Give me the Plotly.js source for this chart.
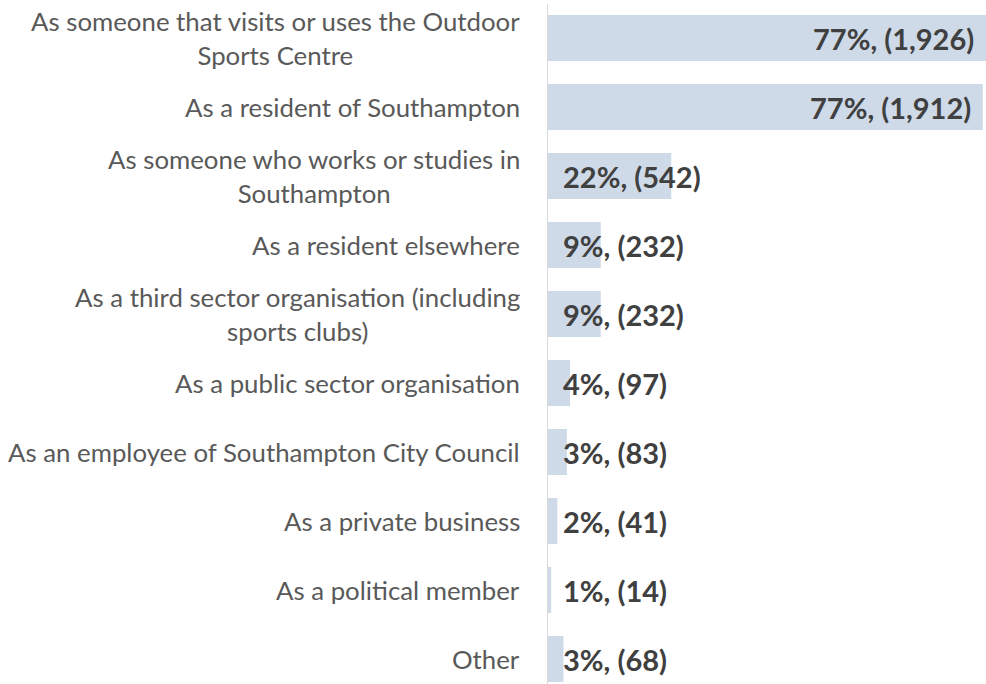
<!DOCTYPE html>
<html><head><meta charset="utf-8">
<script src="https://cdn.plot.ly/plotly-3.0.1.min.js"></script>
<style>body{margin:0;background:#fff}#chart{width:986px;height:684px}</style>
</head><body><div id="chart"></div>
<script>
const categories = [
  "As someone that visits or uses the Outdoor<br>Sports Centre",
  "As a resident of Southampton",
  "As someone who works or studies in<br>Southampton",
  "As a resident elsewhere",
  "As a third sector organisation (including<br>sports clubs)",
  "As a public sector organisation",
  "As an employee of Southampton City Council",
  "As a private business",
  "As a political member",
  "Other"
];
const counts = [1926, 1912, 542, 232, 232, 97, 83, 41, 14, 68];
const percents = ["77%", "77%", "22%", "9%", "9%", "4%", "3%", "2%", "1%", "3%"];

const labels = counts.map((c, i) => percents[i] + ", (" + c.toLocaleString("en-US") + ")");
const catFont = {family: "Lato, 'Open Sans', sans-serif", size: 25.8, color: "#595959"};
const valFont = {family: "Lato, 'Open Sans', sans-serif", size: 29, color: "#404040", weight: 700};

const annotations = [];
categories.forEach((cat, i) => {
  annotations.push({
    xref: "paper", yref: "y", x: 0, y: cat, xanchor: "right", yanchor: "middle",
    xshift: -26, text: cat, showarrow: false, font: catFont, align: "center"
  });
  const big = counts[i] > 1000;
  annotations.push({
    xref: "x", yref: "y", x: big ? counts[i] : 0, y: cat,
    xanchor: big ? "right" : "left", yanchor: "middle",
    xshift: big ? -10 : 13, text: "<b>" + labels[i] + "</b>",
    showarrow: false, font: valFont
  });
});

const trace = {
  type: "bar", orientation: "h", x: counts, y: categories,
  marker: {color: "#cfdae8"}, hoverinfo: "none"
};

const layout = {
  width: 986, height: 684,
  margin: {l: 548, r: 0, t: 4, b: 0, pad: 0},
  paper_bgcolor: "#fff", plot_bgcolor: "#fff",
  bargap: 0.333, showlegend: false,
  xaxis: {range: [0, 1926], showgrid: false, zeroline: false, showticklabels: false, showline: false, fixedrange: true},
  yaxis: {type: "category", range: [9.362, -0.493], showticklabels: false, showgrid: false, zeroline: false,
          showline: true, linecolor: "#d9d9d9", linewidth: 1, ticks: "", fixedrange: true},
  annotations: annotations
};
Plotly.newPlot("chart", [trace], layout, {displayModeBar: false, staticPlot: true});
</script></body></html>
